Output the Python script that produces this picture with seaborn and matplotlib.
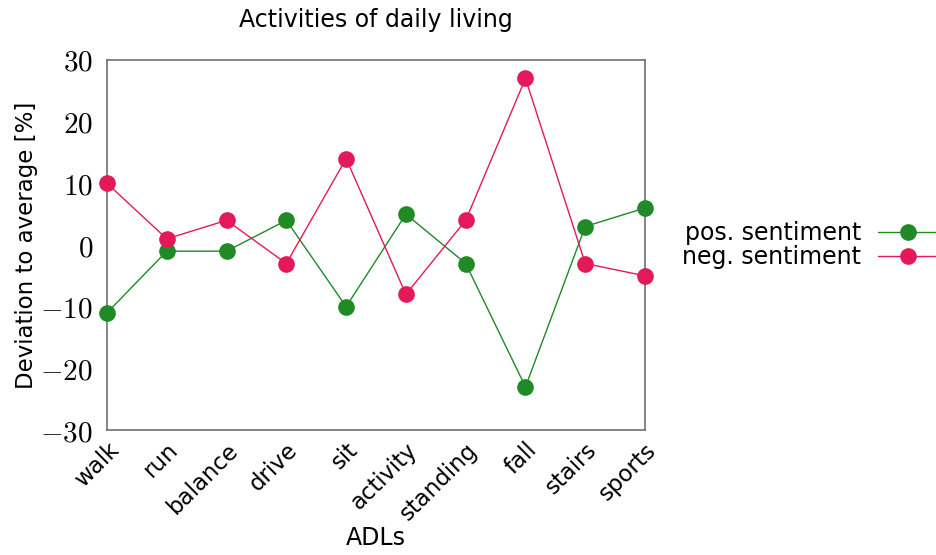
import matplotlib
matplotlib.use("Agg")
import matplotlib.pyplot as plt
import seaborn as sns
import pandas as pd
from matplotlib.ticker import FuncFormatter

activities = ["walk", "run", "balance", "drive", "sit", "activity",
              "standing", "fall", "stairs", "sports"]
pos_sentiment = [-11, -1, -1, 4, -10, 5, -3, -23, 3, 6]
neg_sentiment = [10, 1, 4, -3, 14, -8, 4, 27, -3, -5]
series_names = ["pos. sentiment", "neg. sentiment"]
colors = ["#1F8A26", "#E3195A"]
y_ticks = [-30, -20, -10, 0, 10, 20, 30]

sns.set_style("white")
plt.rcParams["font.family"] = ["DejaVu Sans"]
plt.rcParams["mathtext.fontset"] = "cm"
plt.rcParams["text.color"] = "black"
plt.rcParams["axes.labelcolor"] = "black"

df = pd.DataFrame({
    "x": list(range(len(activities))) * 2,
    "value": pos_sentiment + neg_sentiment,
    "series": [series_names[0]] * len(activities) + [series_names[1]] * len(activities),
})

fig = plt.figure(figsize=(9.37, 5.55), dpi=100)
ax = fig.add_axes([0.1142, 0.2252, 0.5742, 0.6667])

sns.lineplot(data=df, x="x", y="value", hue="series", palette=colors,
             marker="o", markersize=12, markeredgewidth=0, linewidth=1,
             ax=ax, legend=False, clip_on=False, zorder=3)

ax.set_xlim(0, len(activities) - 1)
ax.set_ylim(-30, 30)
ax.set_xticks(range(len(activities)))
ax.set_xticklabels(activities, rotation=45, ha="right", rotation_mode="anchor",
                   fontsize=16.5)
ax.set_yticks(y_ticks)
ax.yaxis.set_major_formatter(FuncFormatter(lambda v, p: r"$%d$" % v))
for lbl in ax.get_yticklabels():
    lbl.set_fontsize(21)

for s in ax.spines.values():
    s.set_color("#707070")
    s.set_linewidth(1.2)
ax.tick_params(axis="both", direction="in", length=5, color="#707070",
               labelcolor="black", top=False, right=False)
ax.tick_params(axis="x", pad=6)
ax.tick_params(axis="y", pad=10)

ax.set_title("Activities of daily living", fontsize=17, pad=24)
ax.set_xlabel("ADLs", fontsize=17, labelpad=1)
ax.set_ylabel("Deviation to average [%]", fontsize=16.5, labelpad=2)

handles = [plt.Line2D([], [], color=c, marker="o", markersize=12,
                      markeredgewidth=0, linewidth=1) for c in colors]
ax.legend(handles, series_names, loc="center left", bbox_to_anchor=(1.069, 0.5),
          frameon=False, markerfirst=False, fontsize=17, handlelength=2.6,
          handletextpad=0.7, labelspacing=0.0, borderaxespad=0, borderpad=0)

fig.savefig("out.png", dpi=100)
